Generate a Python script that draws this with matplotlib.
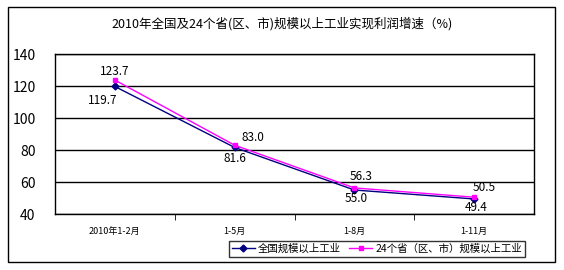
import matplotlib
matplotlib.use('Agg')
import matplotlib.pyplot as plt
from matplotlib.patches import Rectangle

plt.rcParams['font.family'] = ['Noto Sans CJK SC', 'DejaVu Sans']

# data
categories = ['2010年1-2月', '1-5月', '1-8月', '1-11月']
national = [119.7, 81.6, 55.0, 49.4]
provinces = [123.7, 83.0, 56.3, 50.5]
national_name = '全国规模以上工业'
provinces_name = '24个省（区、市）规模以上工业'
title = '2010年全国及24个省(区、市)规模以上工业实现利润增速（%)'

W, H = 564, 270
fig = plt.figure(figsize=(W / 100, H / 100), dpi=100)
fig.patch.set_facecolor('white')

# outer chart frame
fig.patches.append(Rectangle((8 / W, 1 - 262 / H), 547 / W, 255 / H,
                             transform=fig.transFigure, fill=False,
                             edgecolor='black', lw=1))

ax = fig.add_axes([55 / W, 1 - 214 / H, 479 / W, 160 / H])
x = list(range(len(categories)))

ax.plot(x, national, color='#000080', marker='D', markersize=3.5, lw=1,
        label=national_name, zorder=3)
ax.plot(x, provinces, color='#FF00FF', marker='s', markersize=3.5, lw=1,
        label=provinces_name, zorder=3)

ax.set_xlim(-0.5, len(categories) - 0.5)
ax.set_ylim(40, 140)
ax.set_yticks(range(40, 141, 20))
ax.yaxis.grid(True, color='black', lw=1)
ax.set_axisbelow(True)
for s in ax.spines.values():
    s.set_color('black')
    s.set_linewidth(1)

ax.set_xticks(x)
ax.set_xticklabels(categories, fontsize=6.5)
ax.set_xticks([i + 0.5 for i in x[:-1]], minor=True)
ax.tick_params(axis='x', which='major', length=0, pad=9)
ax.tick_params(axis='x', which='minor', length=4, direction='out')
ax.tick_params(axis='y', length=0, labelsize=10, pad=14)

# value labels (offsets in pixels)
nat_off = [(-12, -14), (0, -11), (2, -8), (2, -9)]
prov_off = [(0, 9), (18, 8), (7, 11), (10, 10)]
for i in x:
    ax.annotate(f'{national[i]:.1f}', (i, national[i]), xytext=nat_off[i],
                textcoords='offset pixels', ha='center', va='center', fontsize=8.5)
    ax.annotate(f'{provinces[i]:.1f}', (i, provinces[i]), xytext=prov_off[i],
                textcoords='offset pixels', ha='center', va='center', fontsize=8.5)

fig.text(282 / W, 1 - 24 / H, title, ha='center', va='center', fontsize=9)

leg = fig.legend(loc='center', bbox_to_anchor=(377 / W, 1 - 249 / H), ncol=2,
                 fontsize=7.5, frameon=True, fancybox=False, handlelength=2.2,
                 handletextpad=0.3, columnspacing=0.8, borderpad=0.25)
leg.get_frame().set_edgecolor('black')
leg.get_frame().set_linewidth(1)

fig.savefig('out.png', dpi=100)
